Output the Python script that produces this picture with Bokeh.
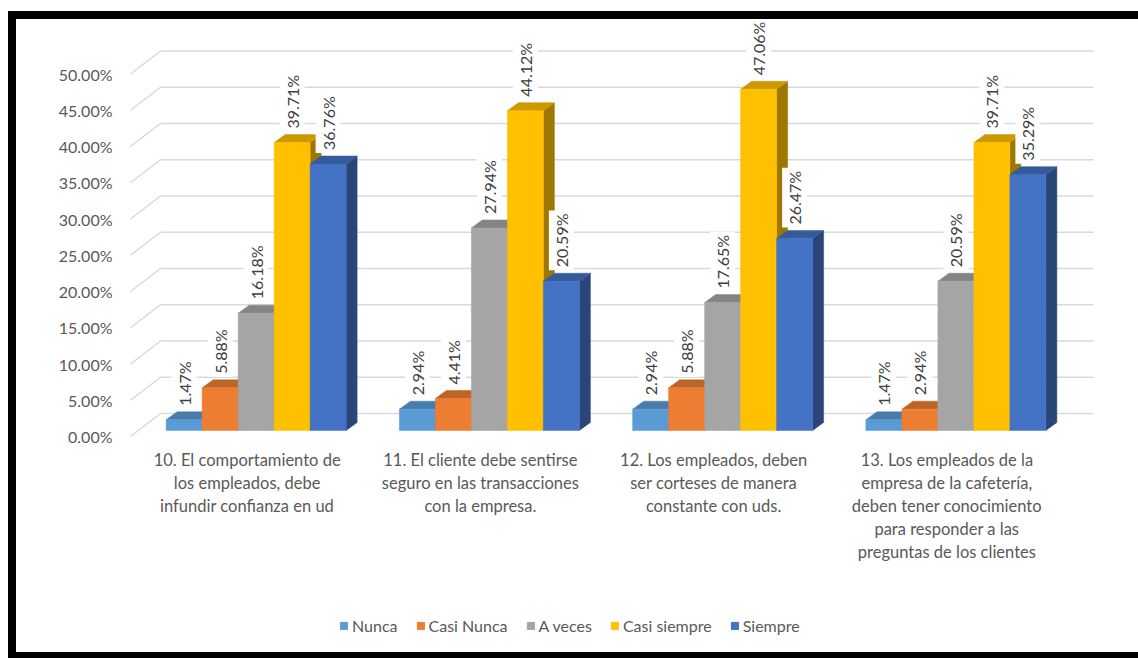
import math
from bokeh.plotting import figure
from bokeh.models import (Legend, LegendItem, FixedTicker, Div, Spacer,
                          PrintfTickFormatter, Range1d)
from bokeh.layouts import row, column
from bokeh.embed import file_html
from bokeh.resources import INLINE
from bokeh.core.properties import value

# ---------------- data ----------------
categories = [
    "10. El comportamiento de\nlos empleados, debe\ninfundir confianza en ud",
    "11. El cliente debe sentirse\nseguro en las transacciones\ncon la empresa.",
    "12. Los empleados, deben\nser corteses de manera\nconstante con uds.",
    "13. Los empleados de la\nempresa de la cafetería,\ndeben tener conocimiento\npara responder a las\npreguntas de los clientes",
]
series_names = ["Nunca", "Casi Nunca", "A veces", "Casi siempre", "Siempre"]
nunca = [1.47, 2.94, 2.94, 1.47]
casi_nunca = [5.88, 4.41, 5.88, 2.94]
a_veces = [16.18, 27.94, 17.65, 20.59]
casi_siempre = [39.71, 44.12, 47.06, 39.71]
siempre = [36.76, 20.59, 26.47, 35.29]
y_ticks = [0, 5, 10, 15, 20, 25, 30, 35, 40, 45, 50]

series_values = [nunca, casi_nunca, a_veces, casi_siempre, siempre]
colors = ["#5B9BD5", "#ED7D31", "#A5A5A5", "#FFC000", "#4472C4"]

# ---------------- layout constants (canvas pixels) ----------------
W, H = 1122, 590       # main chart canvas
H_LEG = 43             # legend strip canvas
PX_X = 233.25          # pixels per category slot
PX_Y = 7.25            # pixels per percent
FRAME_L = 102          # frame left
FRONT_L = 114          # front plane left edge
FRAME_T = 3
ZERO_Y = 417           # 0% on the front plane
FRAME_B = 421

x_start = -0.5 - (FRONT_L - FRAME_L) / PX_X
x_end = -0.5 + (W - FRONT_L) / PX_X
y_start = -(FRAME_B - ZERO_Y) / PX_Y
y_end = (ZERO_Y - FRAME_T) / PX_Y

DXB, DYB = 30 / PX_X, 23 / PX_Y        # full depth (back wall)
XF, YF = 9 / PX_X, 6 / PX_Y            # bar front face offset
DX, DY = 11 / PX_X, 8 / PX_Y           # bar depth
BW = 36 / PX_X                         # bar width
LBL = 11 / PX_Y                        # label gap above bar front top

FONT = "Lato"


def darken(hex_color, f):
    h = hex_color.lstrip("#")
    r, g, b = (int(h[i:i + 2], 16) for i in (0, 2, 4))
    return "#%02x%02x%02x" % (int(r * f), int(g * f), int(b * f))


p = figure(width=W, height=H, output_backend="svg", toolbar_location=None,
           x_range=Range1d(x_start, x_end), y_range=Range1d(y_start, y_end),
           min_border_left=FRAME_L, min_border_right=0,
           min_border_top=FRAME_T, min_border_bottom=H - FRAME_B)
p.outline_line_color = None
p.xgrid.visible = False
p.ygrid.visible = False
p.background_fill_color = "white"
p.border_fill_color = "white"

# y axis
yax = p.yaxis[0]
yax.ticker = FixedTicker(ticks=y_ticks)
yax.formatter = PrintfTickFormatter(format="%.2f%%")
yax.axis_line_color = None
yax.major_tick_line_color = None
yax.minor_tick_line_color = None
yax.major_tick_out = 0
yax.minor_tick_out = 0
yax.major_label_text_font = FONT
yax.major_label_text_font_size = "16px"
yax.major_label_text_color = "#595959"
yax.major_label_standoff = 6

# x axis
xax = p.xaxis[0]
xax.ticker = FixedTicker(ticks=list(range(len(categories))))
xax.major_label_overrides = {i: c for i, c in enumerate(categories)}
xax.axis_line_color = None
xax.major_tick_line_color = None
xax.minor_tick_line_color = None
xax.major_tick_out = 0
xax.minor_tick_out = 0
xax.major_label_text_font = FONT
xax.major_label_text_font_size = "16.5px"
xax.major_label_text_color = "#595959"
xax.major_label_text_line_height = 1.15
xax.major_label_standoff = 9

# back wall grid + floor diagonals
gy = [t + DYB for t in y_ticks]
p.segment(x0=[-0.5 + DXB] * len(y_ticks), x1=[3.5 + DXB] * len(y_ticks),
          y0=gy, y1=gy, line_color="#D9D9D9", line_width=1.5)
p.segment(x0=[-0.5] * len(y_ticks), x1=[-0.5 + DXB] * len(y_ticks),
          y0=y_ticks, y1=gy, line_color="#D9D9D9", line_width=1.5)

# legend strip (its own small figure, below the chart)
pl = figure(width=W, height=H_LEG, output_backend="svg", toolbar_location=None,
            x_range=Range1d(0, 1), y_range=Range1d(0, 1),
            x_axis_location=None, y_axis_location=None,
            min_border=0)
pl.outline_line_color = None
pl.xgrid.visible = False
pl.ygrid.visible = False

# 3-D bars
legend_items = []
n = len(series_names)
for k, (name, vals, col) in enumerate(zip(series_names, series_values, colors)):
    xs = [i + XF + (k - (n - 1) / 2) * BW for i in range(len(vals))]
    tops = [v + YF for v in vals]
    side_xs, side_ys, top_xs, top_ys = [], [], [], []
    for xc, t in zip(xs, tops):
        xl, xr = xc - BW / 2, xc + BW / 2
        b = YF
        side_xs.append([xr, xr + DX, xr + DX, xr])
        side_ys.append([b, b + DY, t + DY, t])
        top_xs.append([xl, xr, xr + DX, xl + DX])
        top_ys.append([t, t, t + DY, t + DY])
    sc = darken(col, 0.62)
    tc = darken(col, 0.8)
    p.patches(side_xs, side_ys, fill_color=sc, line_color=sc, line_width=0.5)
    p.patches(top_xs, top_ys, fill_color=tc, line_color=tc, line_width=0.5)
    p.vbar(x=xs, width=BW, bottom=YF, top=tops, fill_color=col,
           line_color=col, line_width=0.5)
    p.text(x=xs, y=[t + LBL for t in tops], text=[f"{v:.2f}%" for v in vals],
           angle=math.pi / 2, text_align="left", text_baseline="middle",
           text_font=value(FONT), text_font_size="16px", text_color="#404040",
           background_fill_color="white", padding=3)
    # off-view swatch renderer that only feeds the legend
    lr = pl.vbar(x=[-5], width=0.1, bottom=[-5], top=[-4],
                 fill_color=col, line_color=col)
    legend_items.append(LegendItem(label=name, renderers=[lr]))

legend = Legend(items=legend_items, orientation="horizontal",
                location=(221, 17), glyph_width=9, glyph_height=9,
                label_standoff=4, spacing=18, padding=4, margin=0,
                border_line_color=None, background_fill_alpha=0,
                label_text_font=FONT, label_text_font_size="16px",
                label_text_color="#595959")
pl.add_layout(legend, "center")

# black frame round the chart (separate layout blocks)
BLACK = {"background-color": "black"}
left_bar = Div(text="", width=8, height=8 + H + H_LEG + 6, margin=0, styles=BLACK)
top_bar = Div(text="", width=W, height=8, margin=0, styles=BLACK)
bottom_bar = Div(text="", width=W, height=6, margin=0, styles=BLACK)
layout = column(
    Spacer(width=1138, height=11, margin=0),
    row(Spacer(width=8, height=8 + H + H_LEG + 6, margin=0), left_bar,
        column(top_bar, p, pl, bottom_bar, spacing=0), spacing=0),
    spacing=0,
)

open("out.html", "w").write(file_html(layout, INLINE))
